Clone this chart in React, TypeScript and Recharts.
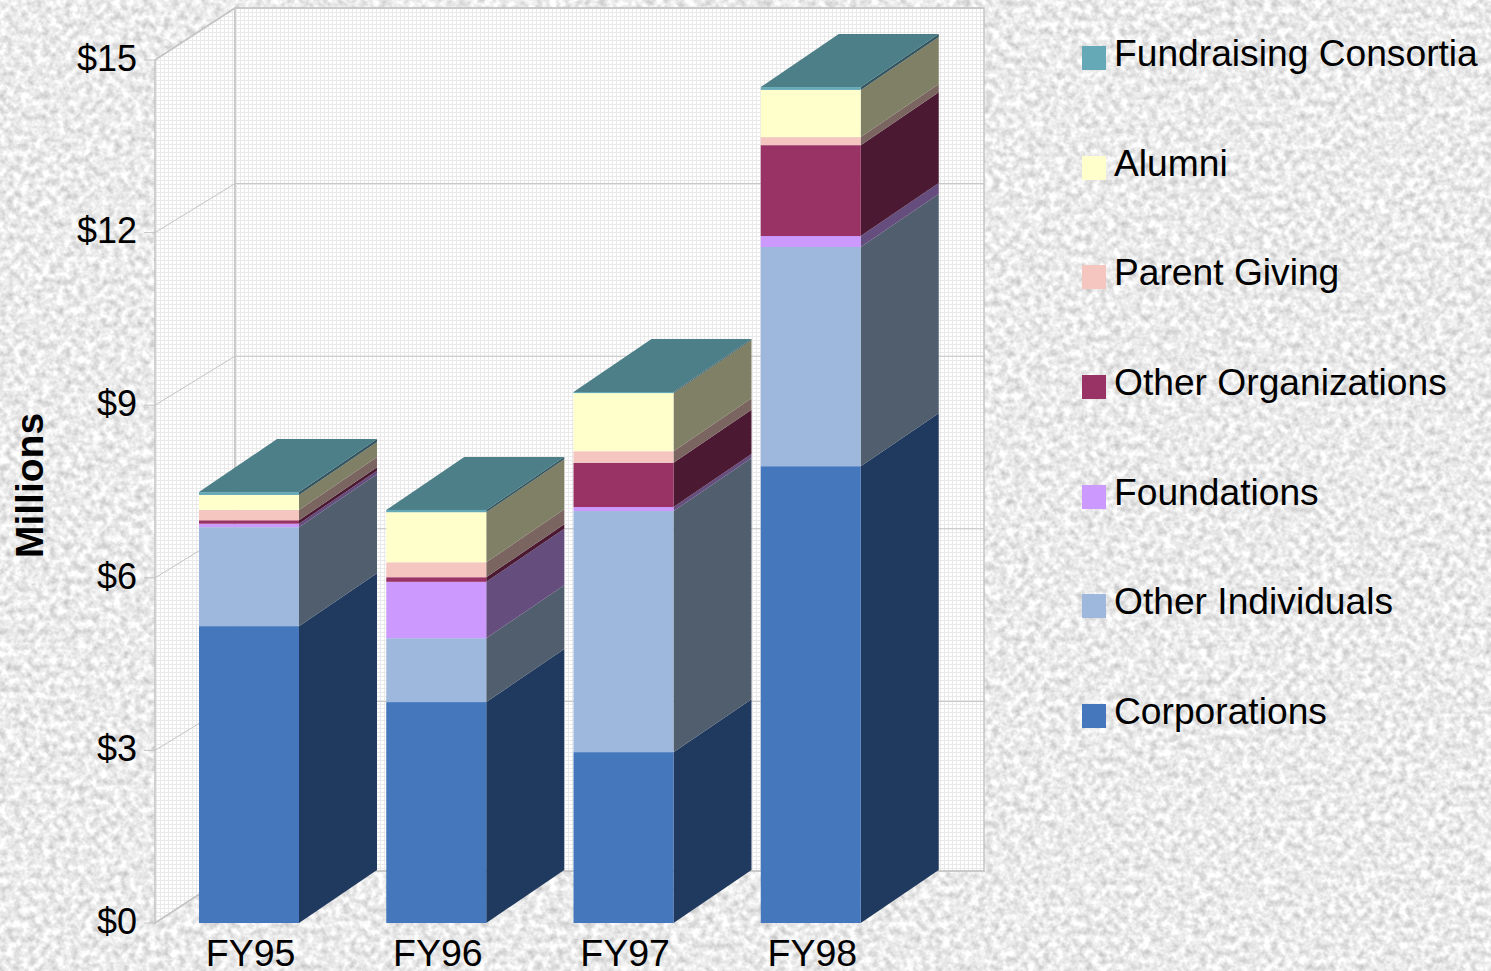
import { BarChart, Bar, XAxis, YAxis, Legend, ReferenceArea, CartesianGrid } from "recharts";

const years = ["FY95", "FY96", "FY97", "FY98"];
const corporations = [5.16, 3.84, 2.97, 7.94];
const otherIndividuals = [1.72, 1.11, 4.19, 3.81];
const foundations = [0.06, 0.98, 0.07, 0.19];
const otherOrganizations = [0.06, 0.08, 0.77, 1.58];
const parentGiving = [0.18, 0.26, 0.2, 0.14];
const alumni = [0.26, 0.87, 1.01, 0.82];
const consortia = [0.05, 0.04, 0.02, 0.05];
const yTicks = [0, 3, 6, 9, 12, 15];

const data = years.map((year, i) => ({
  year,
  Corporations: corporations[i],
  "Other Individuals": otherIndividuals[i],
  Foundations: foundations[i],
  "Other Organizations": otherOrganizations[i],
  "Parent Giving": parentGiving[i],
  Alumni: alumni[i],
  "Fundraising Consortia": consortia[i],
}));

// front colour, side colour, bottom to top
const series = [
  { name: "Corporations", front: "#4577BD", side: "#203A5F" },
  { name: "Other Individuals", front: "#9DB8DC", side: "#505E6E" },
  { name: "Foundations", front: "#CC99FF", side: "#654E7E" },
  { name: "Other Organizations", front: "#993366", side: "#4C1933" },
  { name: "Parent Giving", front: "#F5C6C0", side: "#7B6561" },
  { name: "Alumni", front: "#FFFFCC", side: "#808066" },
  { name: "Fundraising Consortia", front: "#66A9B6", side: "#335560" },
];

const DX = 78;
const DY = 53;
const WALL_DX = 80;
const WALL_DY = 52;
const INNER_LINE_DY = 49; // the inner grid lines meet the back wall a little lower than its edges
const WALL_LINE = "#c4c4c4";

// one stacked segment drawn as a box: front, right side and (for the last series) the lid
function Block(props: any) {
  const { x, y, width, height, fill, side, lid } = props;
  const r = x + width;
  return (
    <g>
      <polygon points={`${r},${y} ${r + DX},${y - DY} ${r + DX},${y + height - DY} ${r},${y + height}`} fill={side} />
      {lid && <polygon points={`${x},${y} ${r},${y} ${r + DX},${y - DY} ${x + DX},${y - DY}`} fill="#4D7F88" />}
      <rect x={x} y={y} width={width} height={height} fill={fill} />
    </g>
  );
}

function Walls(props: any) {
  const { x, y, width, height } = props;
  const bx = x + WALL_DX;
  const b = y + height;
  return (
    <g stroke={WALL_LINE} strokeWidth={1.5}>
      <polygon points={`${x},${y} ${bx},${y - WALL_DY} ${bx},${b - WALL_DY} ${x},${b}`} fill="url(#wallGrid)" />
      <rect x={bx} y={y - WALL_DY} width={width} height={height} fill="url(#wallGrid)" />
    </g>
  );
}

// grid line wrapping from the axis tick round the side wall and along the back wall
function WallLine(props: any) {
  const { x1, y1, x2, index, offset } = props;
  const edge = y1 <= offset.top + 1 || y1 >= offset.top + offset.height - 1;
  const rise = edge ? WALL_DY : INNER_LINE_DY;
  return (
    <path
      key={index}
      d={`M${x1 - 11},${y1} H${x1} L${x1 + WALL_DX},${y1 - rise} H${x2 + WALL_DX}`}
      fill="none"
      stroke={WALL_LINE}
      strokeWidth={1}
    />
  );
}

function LegendList({ payload }: any) {
  const items = [...(payload ?? [])].sort(
    (a: any, b: any) =>
      series.findIndex((s) => s.name === b.value) - series.findIndex((s) => s.name === a.value),
  );
  return (
    <div>
      {items.map((item: any) => (
        <div key={item.value} style={{ position: "relative", height: 109.7 }}>
          <span style={{ position: "absolute", left: 0, top: 12, width: 24, height: 24, background: item.color }} />
          <span style={{ position: "absolute", left: 32, top: -3, fontSize: 37.2, lineHeight: "44px", color: "#000", whiteSpace: "nowrap" }}>
            {item.value}
          </span>
        </div>
      ))}
    </div>
  );
}

function Background() {
  return (
    <svg width={1491} height={971} style={{ position: "absolute", left: 0, top: 0 }}>
      <filter id="granite" x="0" y="0" width="100%" height="100%" colorInterpolationFilters="sRGB">
        <feTurbulence type="fractalNoise" baseFrequency="0.14" numOctaves={3} seed={7} />
        <feColorMatrix
          type="matrix"
          values="0.38 0 0 0 0.73  0.38 0 0 0 0.73  0.38 0 0 0 0.73  0 0 0 0 1"
        />
      </filter>
      <rect width={1491} height={971} filter="url(#granite)" />
    </svg>
  );
}

export default function App() {
  return (
    <div style={{ position: "absolute", left: 0, top: 0, width: 1491, height: 971, overflow: "hidden", fontFamily: "'Liberation Sans', Arial, sans-serif" }}>
      <Background />
      <svg width={0} height={0} style={{ position: "absolute" }}>
        <defs>
          <pattern id="wallGrid" width={4} height={4} patternUnits="userSpaceOnUse">
            <rect width={4} height={4} fill="#ffffff" />
            <path d="M0,0.5 H4 M0.5,0 V4" stroke="#e9e9e9" strokeWidth={1} />
          </pattern>
        </defs>
      </svg>
      <BarChart
        width={1491}
        height={971}
        data={data}
        margin={{ top: 60, right: 587, bottom: 0, left: 0 }}
        barSize={100}
        style={{ position: "absolute", left: 0, top: 0 }}
      >
        <ReferenceArea yAxisId={0} y1={0} y2={15} shape={<Walls />} zIndex={-200} ifOverflow="visible" />
        <CartesianGrid vertical={false} horizontal={(p: any) => <WallLine {...p} />} />
        <XAxis
          dataKey="year"
          height={48}
          axisLine={false}
          tickLine={false}
          tickSize={0}
          tickMargin={16}
          interval={0}
          tick={{ fontSize: 37.5, fill: "#000", dx: 2 }}
        />
        <YAxis
          width={155}
          domain={[0, 15]}
          ticks={yTicks}
          axisLine={false}
          tickLine={false}
          tickSize={0}
          tickMargin={18}
          tickFormatter={(v: number) => `$${v}`}
          tick={{ fontSize: 36, fill: "#000", dy: -2 }}
          label={{ value: "Millions", angle: -90, position: "insideLeft", dx: 24, dy: -6, style: { fontSize: 39, fontWeight: "bold", fill: "#000", textAnchor: "middle" } }}
        />
        <Legend
          layout="vertical"
          align="center"
          verticalAlign="middle"
          wrapperStyle={{ left: 1082, top: 34, width: 409 }}
          content={<LegendList />}
        />
        {series.map((s, i) => (
          <Bar
            key={s.name}
            dataKey={s.name}
            stackId="total"
            fill={s.front}
            isAnimationActive={false}
            shape={(p: any) => <Block {...p} fill={s.front} side={s.side} lid={i === series.length - 1} />}
          />
        ))}
      </BarChart>
    </div>
  );
}
